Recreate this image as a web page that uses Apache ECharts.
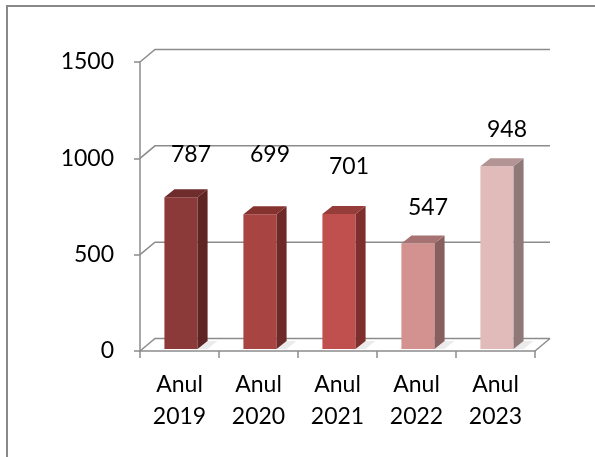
<!DOCTYPE html>
<html>
<head>
<meta charset="utf-8">
<script src="https://cdn.jsdelivr.net/npm/echarts@6/dist/echarts.min.js"></script>
<style>
  html, body { margin: 0; padding: 0; background: #fff; }
  #main { width: 595px; height: 457px; }
</style>
</head>
<body>
<div id="main"></div>
<script>
const categories = ['Anul\n2019', 'Anul\n2020', 'Anul\n2021', 'Anul\n2022', 'Anul\n2023'];
const values = [787, 699, 701, 547, 948];
const yTicks = [0, 500, 1000, 1500];

// face colours of each bar: front, top, side
const frontColors = ['#8c3a39', '#a84442', '#c0504d', '#d39190', '#e1bbba'];
const topColors = ['#6e2c2c', '#85332f', '#963c39', '#a67372', '#b39494'];
const sideColors = ['#5f2525', '#6e2a28', '#7e2e2c', '#865f5e', '#8f7978'];
// labels were dragged around in the original, keep their lift above the bar (px)
const labelLift = [43, 60, 47, 36, 37];

const WALL_DX = 15, WALL_DY = -12.5;   // depth of the walls
const BAR_DX = 10, BAR_DY = -8;        // depth of a bar
const BAR_SHIFT_X = 1.5, BAR_SHIFT_Y = -2;
const GRID_COLOR = '#8c8c8c';
const FONT = 'Lato, "Open Sans", sans-serif';
const FONT_SIZE = 23;

function renderFrame(params, api) {
  const cs = params.coordSys;
  const style = { stroke: GRID_COLOR, lineWidth: 1.5, fill: null };
  const children = [];
  yTicks.forEach(v => {
    const y = api.coord([0, v])[1];
    children.push({
      type: 'polyline',
      shape: { points: [[cs.x, y], [cs.x + WALL_DX, y + WALL_DY], [cs.x + cs.width + WALL_DX, y + WALL_DY]] },
      style: style
    });
  });
  const y0 = api.coord([0, 0])[1];
  children.push({
    type: 'line',
    shape: { x1: cs.x + cs.width, y1: y0, x2: cs.x + cs.width + WALL_DX, y2: y0 + WALL_DY },
    style: style
  });
  return { type: 'group', children: children };
}

function renderBar(params, api) {
  const i = api.value(0);
  const v = api.value(1);
  const top = api.coord([i, v]);
  const base = api.coord([i, 0]);
  const bw = api.size([1, 0])[0] * 0.42;
  const x0 = top[0] - bw / 2 + BAR_SHIFT_X;
  const x1 = x0 + bw;
  const yt = top[1] + BAR_SHIFT_Y;
  const yb = base[1] + BAR_SHIFT_Y;
  const idx = params.dataIndex;
  return {
    type: 'group',
    children: [
      {
        type: 'polygon',
        shape: { points: [[x1, yb], [x1 + BAR_DX, yb + BAR_DY], [x1 + BAR_DX + 10, yb + BAR_DY], [x1 + 10, yb]] },
        style: { fill: 'rgba(0,0,0,0.08)' }
      },
      {
        type: 'rect',
        shape: { x: x0, y: yt, width: bw, height: yb - yt },
        style: { fill: frontColors[idx] }
      },
      {
        type: 'polygon',
        shape: { points: [[x1, yt], [x1 + BAR_DX, yt + BAR_DY], [x1 + BAR_DX, yb + BAR_DY], [x1, yb]] },
        style: { fill: sideColors[idx] }
      },
      {
        type: 'polygon',
        shape: { points: [[x0, yt], [x0 + BAR_DX, yt + BAR_DY], [x1 + BAR_DX, yt + BAR_DY], [x1, yt]] },
        style: { fill: topColors[idx] }
      },
      {
        type: 'text',
        style: {
          text: String(v),
          x: (x0 + x1) / 2 + 10,
          y: yt - labelLift[idx],
          align: 'center',
          verticalAlign: 'middle',
          fontSize: FONT_SIZE,
          fontFamily: FONT,
          fill: '#000'
        }
      }
    ]
  };
}

const myChart = echarts.init(document.getElementById('main'));
myChart.setOption({
  animation: false,
  backgroundColor: '#fff',
  graphic: [
    {
      type: 'rect',
      shape: { x: 7, y: 6, width: 700, height: 600 },
      style: { fill: null, stroke: '#888', lineWidth: 2 }
    }
  ],
  grid: { left: 140, top: 62, right: 60, bottom: 106 },
  xAxis: {
    type: 'category',
    data: categories,
    axisLine: { lineStyle: { color: GRID_COLOR, width: 1.5 } },
    axisTick: { show: true, length: 7, alignWithLabel: false, lineStyle: { color: GRID_COLOR, width: 1.5 } },
    axisLabel: { interval: 0, margin: 18, fontSize: FONT_SIZE, lineHeight: 32, fontFamily: FONT, color: '#000' },
    splitLine: { show: false }
  },
  yAxis: {
    type: 'value',
    min: 0,
    max: 1500,
    interval: 500,
    axisLine: { show: true, lineStyle: { color: GRID_COLOR, width: 1.5 } },
    axisTick: { show: true, length: 6, lineStyle: { color: GRID_COLOR, width: 1.5 } },
    axisLabel: {
      margin: 26,
      fontSize: FONT_SIZE,
      fontFamily: FONT,
      color: '#000',
      formatter: v => String(v)
    },
    splitLine: { show: false }
  },
  series: [
    {
      type: 'custom',
      z: 1,
      silent: true,
      renderItem: renderFrame,
      data: [[0, 0]]
    },
    {
      type: 'custom',
      z: 2,
      renderItem: renderBar,
      data: values.map((v, i) => [i, v])
    }
  ]
});
</script>
</body>
</html>
